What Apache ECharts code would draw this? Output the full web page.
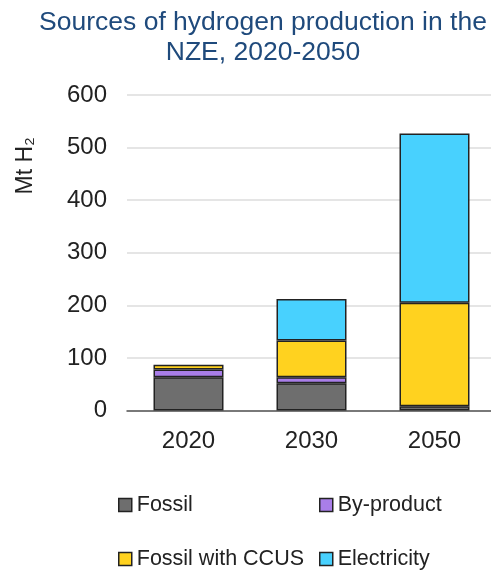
<!DOCTYPE html>
<html><head><meta charset="utf-8">
<script src="https://cdn.jsdelivr.net/npm/echarts@6/dist/echarts.min.js"></script>
<style>html,body{margin:0;padding:0;background:#fff;overflow:hidden}#c{width:496px;height:571px}</style>
</head><body><div id="c"></div>
<script>
const categories = ['2020', '2030', '2050'];
const fossil = [63, 52, 8];
const byProduct = [15, 11, null];
const fossilCCUS = [9, 70, 197];
const electricity = [null, 79, 322];
const yTicks = [0, 100, 200, 300, 400, 500, 600];

const FONT = '"Liberation Sans", Arial, sans-serif';
const names = ['Fossil', 'By-product', 'Fossil with CCUS', 'Electricity'];
const colors = ['#6e6e6e', '#a97ee8', '#ffd21f', '#48d1fe'];
const values = [fossil, byProduct, fossilCCUS, electricity];

const chart = echarts.init(document.getElementById('c'));
const legendPos = [[113, 489], [314, 489], [113, 543], [314, 543]];
chart.setOption({
  animation: false,
  textStyle: { fontFamily: FONT },
  title: {
    text: 'Sources of hydrogen production in the\nNZE, 2020-2050',
    left: 258, top: 3, textAlign: 'center',
    textStyle: { fontFamily: FONT, fontSize: 26.5, fontWeight: 'normal', color: '#1f4a7c', lineHeight: 30 }
  },
  legend: names.map((n, i) => ({
    data: [n], left: legendPos[i][0], top: legendPos[i][1],
    itemWidth: 13, itemHeight: 13, itemGap: 0, icon: 'rect',
    itemStyle: { borderColor: '#222', borderWidth: 1.5 },
    textStyle: { fontFamily: FONT, fontSize: 21.5, color: '#222' }
  })),
  grid: { left: 127, top: 95, width: 369, height: 315.5 },
  xAxis: {
    type: 'category', data: categories,
    axisLine: { lineStyle: { color: '#555', width: 1.5 } },
    axisTick: { show: false },
    axisLabel: { fontFamily: FONT, fontSize: 24, color: '#222', margin: 19 }
  },
  yAxis: {
    type: 'value', min: yTicks[0], max: yTicks[yTicks.length - 1], interval: 100,
    name: 'Mt H₂', nameLocation: 'middle', nameRotate: 90, nameGap: 90,
    nameTextStyle: { fontFamily: FONT, fontSize: 23, color: '#222', padding: [0, 0, 0, 174] },
    axisLine: { show: false }, axisTick: { show: false },
    axisLabel: { fontFamily: FONT, fontSize: 24, color: '#222', margin: 20 },
    splitLine: { lineStyle: { color: '#dcdcdc', width: 1.5 } }
  },
  series: names.map((n, i) => ({
    name: n, type: 'bar', stack: 'total', data: values[i], barWidth: 70,
    itemStyle: { color: colors[i], borderColor: '#222', borderWidth: 1.5 }
  }))
});
</script></body></html>
